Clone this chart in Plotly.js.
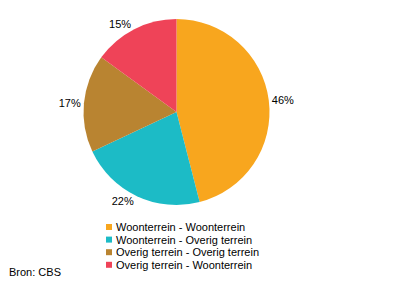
<!DOCTYPE html>
<html>
<head>
<meta charset="utf-8">
<script src="https://cdn.plot.ly/plotly-3.0.1.min.js"></script>
<style>html,body{margin:0;padding:0;background:#fff;}#chart{width:396px;height:291px;}</style>
</head>
<body>
<div id="chart"></div>
<script>
var categories = ["Woonterrein - Woonterrein", "Woonterrein - Overig terrein", "Overig terrein - Overig terrein", "Overig terrein - Woonterrein"];
var values = [46, 22, 17, 15];
var colors = ["#F8A61E", "#1CBBC6", "#B98431", "#EF4358"];
var source = "Bron: CBS";

var W = 396, H = 291;
function px(x) { return x / W; }
function py(y) { return 1 - y / H; }

var FONT = "Arial, 'Liberation Sans', sans-serif";

var trace = {
  type: "pie",
  labels: categories,
  values: values,
  marker: { colors: colors, line: { width: 0 } },
  sort: false,
  direction: "clockwise",
  rotation: 0,
  textinfo: "percent",
  texttemplate: "%{percent:.0%}",
  textposition: "outside",
  outsidetextfont: { family: FONT, size: 11, color: "#000" },
  hoverinfo: "none",
  showlegend: false,
  domain: { x: [px(83.5), px(269.5)], y: [py(205), py(19)] }
};

var shapes = [];
var annotations = [];
categories.forEach(function (c, i) {
  var yc = 227 + i * 12.6;
  shapes.push({
    type: "rect", xref: "paper", yref: "paper",
    x0: px(106), x1: px(112), y0: py(yc + 3), y1: py(yc - 3),
    fillcolor: colors[i], line: { width: 0 }
  });
  annotations.push({
    xref: "paper", yref: "paper", x: px(114), y: py(yc),
    xanchor: "left", yanchor: "middle", showarrow: false,
    text: c, font: { family: FONT, size: 11, color: "#000" }
  });
});
annotations.push({
  xref: "paper", yref: "paper", x: px(7), y: py(272),
  xanchor: "left", yanchor: "middle", showarrow: false,
  text: source, font: { family: FONT, size: 11, color: "#000" }
});

var layout = {
  width: W, height: H,
  margin: { l: 0, r: 0, t: 0, b: 0 },
  paper_bgcolor: "#fff",
  plot_bgcolor: "#fff",
  showlegend: false,
  shapes: shapes,
  annotations: annotations
};

Plotly.newPlot("chart", [trace], layout, { displayModeBar: false, staticPlot: true });
</script>
</body>
</html>
